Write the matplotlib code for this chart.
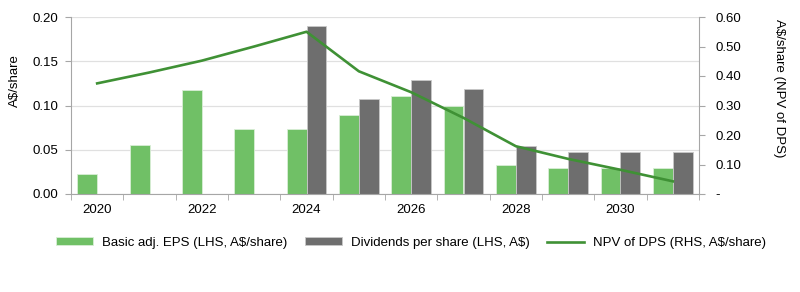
import matplotlib
matplotlib.use("Agg")
import matplotlib.pyplot as plt
import numpy as np
from matplotlib.ticker import FixedLocator, FuncFormatter

plt.rcParams['font.family'] = ['Liberation Sans', 'DejaVu Sans']

years = [2020, 2021, 2022, 2023, 2024, 2025, 2026, 2027, 2028, 2029, 2030, 2031]
eps = [0.0226, 0.0557, 0.1175, 0.0731, 0.0731, 0.0893, 0.1107, 0.0991, 0.0328, 0.0294, 0.0294, 0.0294]
dps = [np.nan, np.nan, np.nan, np.nan, 0.190, 0.107, 0.1288, 0.1186, 0.0546, 0.0478, 0.0475, 0.0475]
npv = [0.375, 0.412, 0.452, 0.500, 0.550, 0.416, 0.345, 0.258, 0.162, 0.119, 0.082, 0.043]
year_labels = ['2020', '', '2022', '', '2024', '', '2026', '', '2028', '', '2030', '']

c_green = '#70C066'
c_gray = '#6E6E6E'
c_line = '#3F9135'
c_spine = '#A6A6A6'
fs = 9.5

fig = plt.figure(figsize=(8, 2.92), dpi=100)
ax = fig.add_axes([71/800, 1-194/292, (699-71)/800, (194-17)/292])
ax2 = ax.twinx()

x = np.arange(len(years))
w = 0.38
ax.bar(x - w/2, eps, width=w, color=c_green, edgecolor='#D9EED6', linewidth=0.6, label='Basic adj. EPS (LHS, A$/share)', zorder=2)
ax.bar(x + w/2, dps, width=w, color=c_gray, edgecolor='#C8C8C8', linewidth=0.6, label='Dividends per share (LHS, A$)', zorder=2)
ax2.plot(x, npv, color=c_line, lw=1.9, label='NPV of DPS (RHS, A$/share)', zorder=3)

ax.set_xlim(-0.5, len(years) - 0.5)
ax.set_ylim(0, 0.20)
ax.set_yticks([0, 0.05, 0.10, 0.15, 0.20])
ax.yaxis.set_major_formatter(FuncFormatter(lambda v, p: f'{v:.2f}'))
ax.grid(axis='y', color='#E0E0E0', lw=0.9, zorder=0)
ax.set_axisbelow(True)

ax2.set_ylim(0, 0.60)
ax2.set_yticks([0, 0.1, 0.2, 0.3, 0.4, 0.5, 0.6])
ax2.yaxis.set_major_formatter(FuncFormatter(lambda v, p: '-' if abs(v) < 1e-9 else f'{v:.2f}'))

ax.set_xticks(x)
ax.set_xticklabels(year_labels)
ax.tick_params(axis='x', which='major', length=0, labelsize=fs, pad=7.5)
ax.xaxis.set_minor_locator(FixedLocator(np.arange(-0.5, len(years), 1.0)))
ax.tick_params(axis='x', which='minor', length=4, color=c_spine, direction='out')
ax.tick_params(axis='y', labelsize=fs, length=4, color=c_spine, pad=5)
ax2.tick_params(axis='y', labelsize=fs, length=4, color=c_spine, pad=8)

for a in (ax, ax2):
    a.spines['top'].set_visible(False)
    for s in ('left', 'right', 'bottom'):
        a.spines[s].set_color(c_spine)
ax.spines['right'].set_visible(False)
ax2.spines['left'].set_visible(False)
ax2.spines['bottom'].set_visible(False)

ax.set_ylabel('A$/share', fontsize=fs, va='center', ha='center')
ax.yaxis.set_label_coords(-0.089, 0.64)
ax2.set_ylabel('A$/share (NPV of DPS)', fontsize=fs, rotation=-90, va='center', ha='center')
ax2.yaxis.set_label_coords(1.127, 0.60)

h1, l1 = ax.get_legend_handles_labels()
h2, l2 = ax2.get_legend_handles_labels()
fig.legend(h1 + h2, l1 + l2, loc='center', bbox_to_anchor=(0.514, 1-243/292), ncol=3,
           frameon=False, fontsize=fs, handlelength=2.8, handleheight=0.55,
           columnspacing=1.3, handletextpad=0.7)

fig.savefig('out.png', dpi=100)
